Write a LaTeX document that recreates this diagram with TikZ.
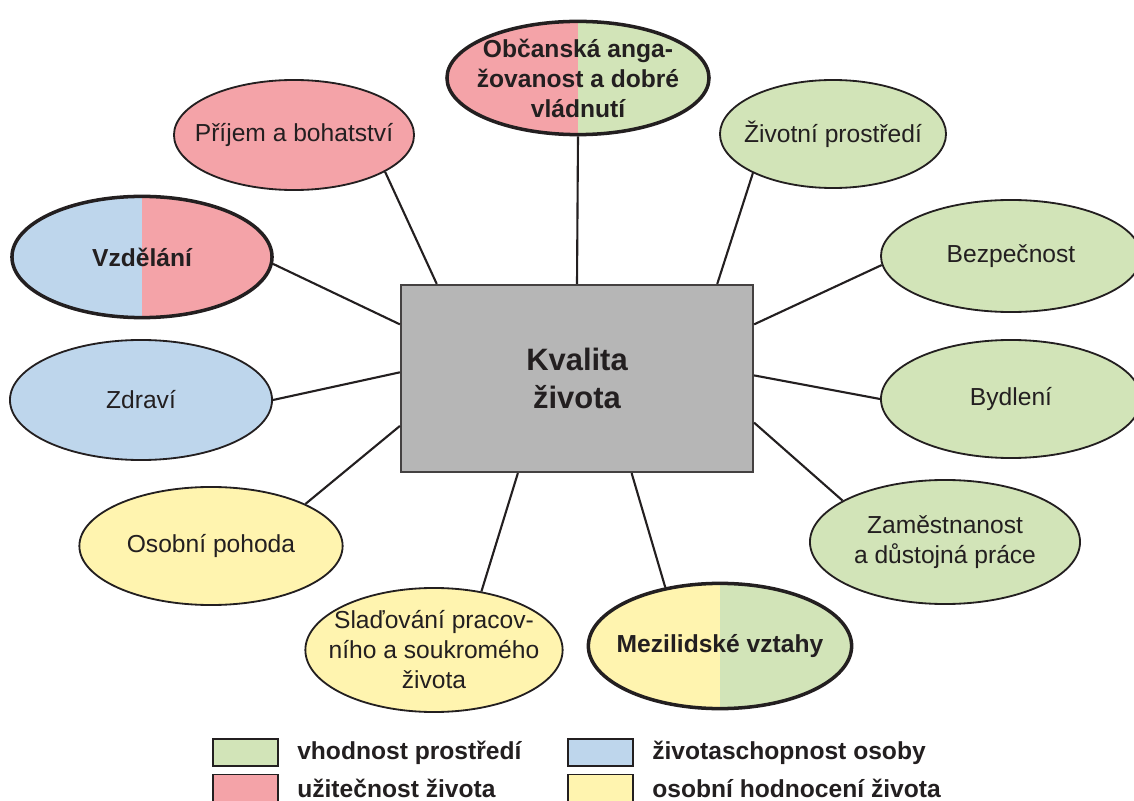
\documentclass[tikz,border=0pt]{standalone}
\usepackage{fontspec}
\setmainfont{Liberation Sans}
\usetikzlibrary{shapes.geometric}
\usetikzlibrary{positioning}
\definecolor{env green}{HTML}{D2E4B8}
\definecolor{use red}{HTML}{F4A3A8}
\definecolor{vital blue}{HTML}{BED6EC}
\definecolor{eval yellow}{HTML}{FFF4AF}
\definecolor{ink}{HTML}{231F20}
\definecolor{hub gray}{HTML}{B6B6B6}
\newcommand{\bubblefont}{\fontsize{17.5}{21.3}\selectfont}
\tikzstyle{bubble}=[ellipse, draw=ink, line width=1.3pt, inner sep=0]
\tikzstyle{key bubble}=[bubble, line width=2.5pt]
\tikzstyle{hub}=[draw=ink!85, line width=1.5pt, fill=hub gray, minimum width=8.8cm, minimum height=4.675cm, inner sep=0, align=center, font=\fontsize{22}{27}\selectfont\bfseries]
\tikzstyle{link}=[draw=ink, line width=1.5pt]
\tikzstyle{legend box}=[draw=ink, line width=1.4pt, minimum width=1.625cm, minimum height=0.675cm, inner sep=0]
\tikzstyle{legend text}=[font=\bubblefont\bfseries, inner sep=0, anchor=west]
\tikzstyle{plain label}=[align=center, text=ink]
\tikzstyle{bold label}=[align=center, text=ink, font=\bubblefont\bfseries]
\tikzset{right half/.style={path picture={\fill[#1] (path picture bounding box.north) rectangle (path picture bounding box.south east);}}}

\begin{document}
\begin{tikzpicture}[x=0.025cm, y=-0.025cm, font=\bubblefont, text=ink]
  \useasboundingbox (0,0) rectangle (1134,801);

  \node[hub] (hub) at (577,378.5) {Kvalita\\života};

  \node[key bubble, fill=use red, right half=env green, minimum width=6.55cm, minimum height=2.83cm,
        label={[bold label]center:Občanská anga-\\žovanost a dobré\\vládnutí}] (obcanska) at (578,78) {};
  \node[bubble, fill=use red, minimum width=6.0cm, minimum height=2.75cm,
        label={[plain label]center:Příjem a bohatství}] (prijem) at (294,135) {};
  \node[bubble, fill=env green, minimum width=5.65cm, minimum height=2.7cm,
        label={[plain label]center:Životní prostředí}] (zivotni) at (833,134) {};
  \node[key bubble, fill=vital blue, right half=use red, minimum width=6.5cm, minimum height=3.03cm,
        label={[bold label]center:Vzdělání}] (vzdelani) at (142,257) {};
  \node[bubble, fill=env green, minimum width=6.5cm, minimum height=2.8cm,
        label={[plain label]center:Bezpečnost}] (bezpecnost) at (1011,256) {};
  \node[bubble, fill=vital blue, minimum width=6.55cm, minimum height=3cm,
        label={[plain label]center:Zdraví}] (zdravi) at (141,400) {};
  \node[bubble, fill=env green, minimum width=6.5cm, minimum height=2.95cm,
        label={[plain label]center:Bydlení}] (bydleni) at (1011,399) {};
  \node[bubble, fill=eval yellow, minimum width=6.58cm, minimum height=2.95cm,
        label={[plain label]center:Osobní pohoda}] (osobni) at (211,546) {};
  \node[bubble, fill=env green, minimum width=6.75cm, minimum height=3.1cm,
        label={[plain label]center:Zaměstnanost\\a důstojná práce}] (zamestnanost) at (945,542) {};
  \node[bubble, fill=eval yellow, minimum width=6.43cm, minimum height=3.1cm,
        label={[plain label]center:Slaďování pracov-\\ního a soukromého\\života}] (sladovani) at (434,650) {};
  \node[key bubble, fill=eval yellow, right half=env green, minimum width=6.58cm, minimum height=3.13cm,
        label={[bold label]center:Mezilidské vztahy}] (mezilidske) at (720,646) {};

  \draw[link] (obcanska.south) -- (hub.north);
  \draw[link] (prijem.-22) -- (hub.146.3);
  \draw[link] (zivotni.-154.3) -- (hub.34.1);
  \draw[link] (vzdelani.-3.5) -- (hub.163.1);
  \draw[link] (bezpecnost.-176) -- (hub.17.5);
  \draw[link] (zdravi.0) -- (hub.178.5);
  \draw[link] (bydleni.180) -- (hub.1.5);
  \draw[link] (osobni.24.6) -- (hub.-165.2);
  \draw[link] (zamestnanost.158.1) -- (hub.-14.8);
  \draw[link] (sladovani.51.3) -- (hub.-122.3);
  \draw[link] (mezilidske.133.9) -- (hub.-60.5);

  \node[legend box, fill=env green] (key_green) at (245.5,752.5) {};
  \node[legend box, fill=use red] (key_red) at (245.5,788) {};
  \node[legend box, fill=vital blue] (key_blue) at (600.5,752.5) {};
  \node[legend box, fill=eval yellow] (key_yellow) at (600.5,788) {};
  \node[legend text, right=0.45cm of key_green] (text_green) {vhodnost prostředí};
  \node[legend text, right=0.45cm of key_red] (text_red) {užitečnost života};
  \node[legend text, right=0.45cm of key_blue] (text_blue) {životaschopnost osoby};
  \node[legend text, right=0.45cm of key_yellow] (text_yellow) {osobní hodnocení života};
\end{tikzpicture}
\end{document}
